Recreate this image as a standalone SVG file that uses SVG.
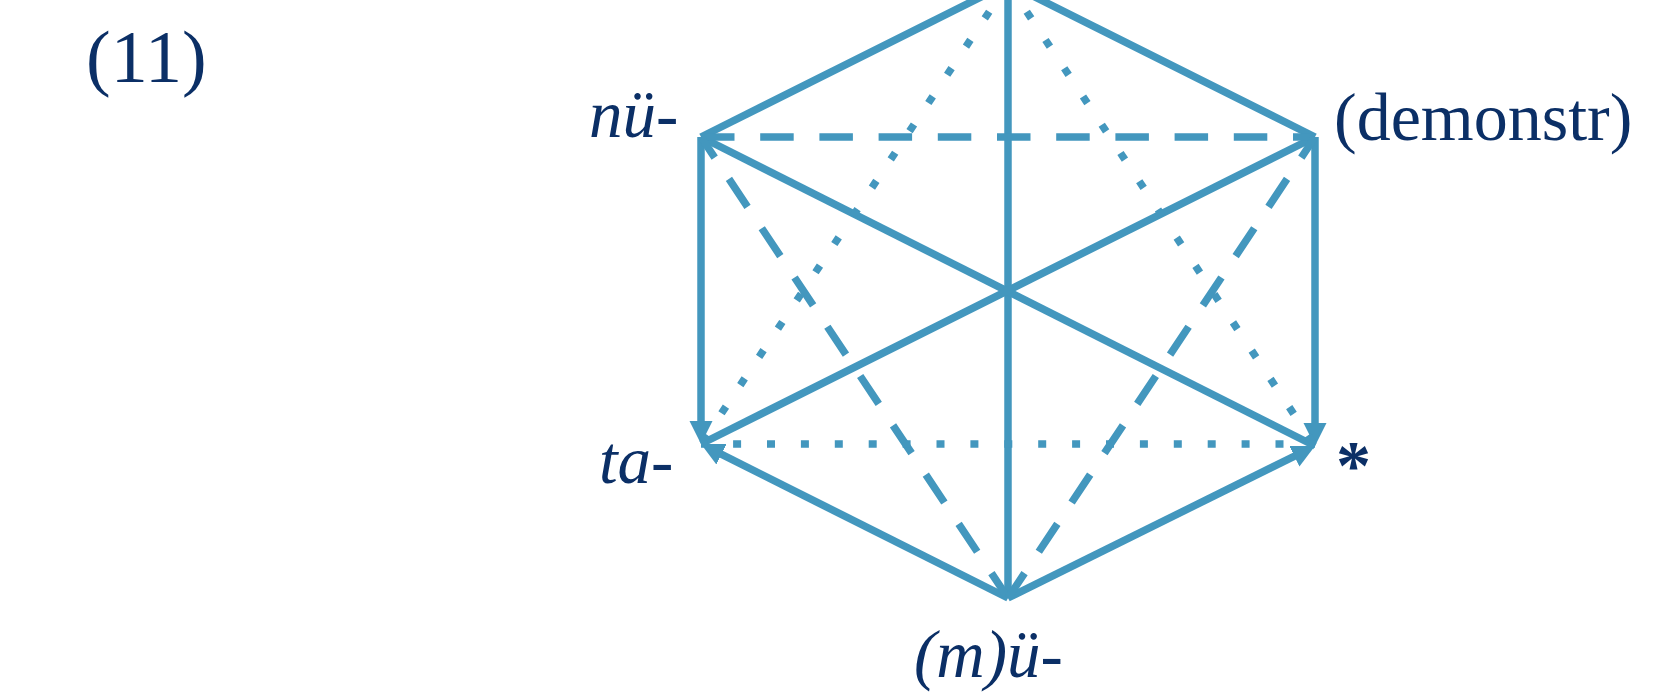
<svg xmlns="http://www.w3.org/2000/svg" width="1666" height="694" viewBox="0 0 1666 694">
<style>
.ln{stroke:#4397BE;stroke-width:7.5;fill:none;stroke-linecap:butt}
.dash{stroke-dasharray:33.5 25.7}
.dot{stroke-dasharray:8 25.9}
.lbl{font-family:"Liberation Serif","Times New Roman",serif;fill:#0B2F66}
.it{font-style:italic}
</style>
<defs>
<marker id="ah" viewBox="0 -12 24 24" refX="11" refY="0" markerWidth="24" markerHeight="24" markerUnits="userSpaceOnUse" orient="auto">
<path d="M0,-11.5 L23,0 L0,11.5 z" fill="#4397BE"/>
</marker>
</defs>
<rect width="1666" height="694" fill="#ffffff"/>
<g id="connectors">
<line class="ln" x1="701" y1="137" x2="1008" y2="-16.5"/>
<line class="ln" x1="1315" y1="137" x2="1008" y2="-16.5"/>
<line class="ln" x1="1008" y1="-16.5" x2="1008" y2="598"/>
<line class="ln" x1="701" y1="137" x2="1315" y2="446"/>
<line class="ln" x1="1315" y1="137" x2="701" y2="444"/>
<line class="ln" x1="701" y1="137" x2="701" y2="432" marker-end="url(#ah)"/>
<line class="ln" x1="1315" y1="137" x2="1315" y2="434" marker-end="url(#ah)"/>
<line class="ln" x1="1008" y1="598" x2="711.7" y2="449.4" marker-end="url(#ah)"/>
<line class="ln" x1="1008" y1="598" x2="1304.2" y2="451.3" marker-end="url(#ah)"/>
<line class="ln dash" x1="701" y1="137" x2="1315" y2="137"/>
<line class="ln dash" x1="701" y1="137" x2="1008" y2="598" stroke-dashoffset="8.8"/>
<line class="ln dash" x1="1315" y1="137" x2="1008" y2="598" stroke-dashoffset="8.8"/>
<line class="ln dot" x1="1008" y1="-16.5" x2="701" y2="444"/>
<line class="ln dot" x1="1008" y1="-16.5" x2="1315" y2="446"/>
<line class="ln dot" x1="701" y1="444" x2="1315" y2="444" stroke-dashoffset="1.8"/>
</g>
<g id="label-11"><text class="lbl" x="86" y="82" font-size="74">(11)</text></g>
<g id="node-nu"><text class="lbl it" x="589" y="137" font-size="67">nü-</text></g>
<g id="node-demonstr"><text class="lbl" x="1334" y="140" font-size="68">(demonstr)</text></g>
<g id="node-ta"><text class="lbl it" x="599" y="483" font-size="67">ta-</text></g>
<g id="node-star"><text class="lbl" x="1336" y="489" font-size="70" font-weight="bold">*</text></g>
<g id="node-mu"><text class="lbl it" x="914" y="677" font-size="67">(m)ü-</text></g>
</svg>
